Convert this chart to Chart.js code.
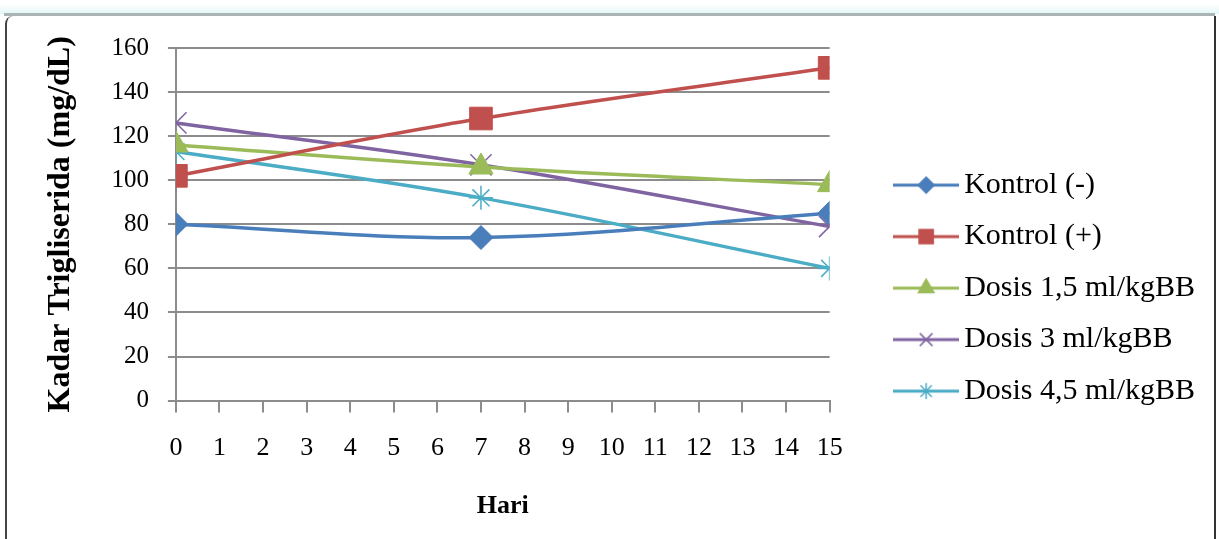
<!DOCTYPE html>
<html>
<head>
<meta charset="utf-8">
<script src="https://cdn.jsdelivr.net/npm/chart.js@4.4.1/dist/chart.umd.min.js"></script>
<style>
  html, body { margin: 0; padding: 0; background: #fff; }
  body { width: 1219px; height: 539px; position: relative; overflow: hidden; }
  .glow { position: absolute; left: 0; top: 4px; width: 1219px; height: 10px;
          background: linear-gradient(#ffffff, #e3f6f6); }
  .bar { position: absolute; left: 4px; top: 13px; width: 1211px; height: 3px; background: #a9b4b4; }
  .frame { position: absolute; left: 5px; top: 16px; width: 1207px; height: 540px;
           border-left: 2px solid #444; border-right: 2px solid #333; border-top-left-radius: 8px; }
  #wrap { position: absolute; left: 8px; top: 14px; width: 1203px; height: 525px; }
</style>
</head>
<body>
<div class="glow"></div>
<div class="bar"></div>
<div class="frame"></div>
<div id="wrap"><canvas id="trigChart"></canvas></div>
<script>
// ---- data ----
const days = [0, 7, 15];
const kontrolNeg = [80, 74, 85];
const kontrolPos = [102, 128, 151];
const dosis15 = [116, 106, 98];
const dosis3 = [126, 107, 79];
const dosis45 = [113, 92, 60];

const seriesNames = ['Kontrol (-)', 'Kontrol (+)', 'Dosis 1,5 ml/kgBB', 'Dosis 3 ml/kgBB', 'Dosis 4,5 ml/kgBB'];
const seriesValues = [kontrolNeg, kontrolPos, dosis15, dosis3, dosis45];
const seriesColors = ['#4a7ebb', '#c0504d', '#9bbb59', '#8064a2', '#4bacc6'];
const seriesMarkers = ['rectRot', 'rect', 'triangle', 'crossRot', 'star'];
const markerSizes = [12, 16, 14, 15, 12];
const legendMarkerSizes = [8, 10, 9, 9, 8];

const serif = "'Liberation Serif', 'Times New Roman', serif";

// small canvas per series: line with marker, used as legend symbol
function makeLegendIcon(i) {
  const c = document.createElement('canvas');
  c.width = 66;
  c.height = 24;
  const ctx = c.getContext('2d');
  ctx.strokeStyle = seriesColors[i];
  ctx.fillStyle = seriesColors[i];
  ctx.lineWidth = 3;
  ctx.beginPath();
  ctx.moveTo(0, 12);
  ctx.lineTo(66, 12);
  ctx.stroke();
  ctx.lineWidth = 1.5;
  Chart.helpers.drawPoint(ctx, {
    pointStyle: seriesMarkers[i],
    radius: legendMarkerSizes[i],
    rotation: 0,
    borderWidth: 1.5
  }, 33, 12);
  return c;
}
const legendIcons = seriesNames.map((_, i) => makeLegendIcon(i));

const datasets = seriesNames.map((name, i) => ({
  label: name,
  data: days.map((d, j) => ({ x: d, y: seriesValues[i][j] })),
  borderColor: seriesColors[i],
  backgroundColor: seriesColors[i],
  pointBackgroundColor: seriesColors[i],
  pointBorderColor: seriesColors[i],
  borderWidth: 3.5,
  pointStyle: seriesMarkers[i],
  pointRadius: markerSizes[i],
  pointBorderWidth: (seriesMarkers[i] === 'crossRot' || seriesMarkers[i] === 'star') ? 1.5 : 1,
  tension: 0.35,
  fill: false
}));

new Chart(document.getElementById('trigChart'), {
  type: 'line',
  data: { datasets },
  options: {
    responsive: true,
    maintainAspectRatio: false,
    animation: false,
    layout: { padding: { left: 34, right: 6, top: 7, bottom: 17 } },
    plugins: {
      tooltip: { enabled: false },
      legend: {
        position: 'right',
        align: 'center',
        maxWidth: 400,
        // empty title only pushes the entries down a little
        title: { display: true, text: ' ', font: { size: 1 }, padding: { top: 16, bottom: 16 } },
        labels: {
          usePointStyle: true,
          pointStyleWidth: 46,
          padding: 21.5,
          color: '#000',
          font: { family: serif, size: 30 },
          generateLabels(chart) {
            const items = Chart.defaults.plugins.legend.labels.generateLabels(chart);
            items.forEach(it => { it.pointStyle = legendIcons[it.datasetIndex]; });
            return items;
          }
        }
      }
    },
    scales: {
      x: {
        type: 'linear',
        min: 0,
        max: 15,
        ticks: {
          stepSize: 1,
          color: '#000',
          padding: 20,
          font: { family: serif, size: 26 }
        },
        grid: { drawOnChartArea: false, drawTicks: true, tickLength: 12, color: '#8c8c8c', lineWidth: 2 },
        border: { color: '#8c8c8c', width: 2 },
        title: {
          display: true,
          text: 'Hari',
          color: '#000',
          font: { family: serif, size: 26, weight: 'bold' },
          padding: { top: 7, bottom: 0 }
        }
      },
      y: {
        min: 0,
        max: 160,
        ticks: {
          stepSize: 20,
          color: '#000',
          padding: 19,
          font: { family: serif, size: 25 }
        },
        grid: { color: '#8c8c8c', lineWidth: 2, tickLength: 8 },
        border: { color: '#8c8c8c', width: 2 },
        title: {
          display: true,
          text: 'Kadar Trigliserida (mg/dL)',
          color: '#000',
          font: { family: serif, size: 32, weight: 'bold' },
          padding: { top: 0, bottom: 12 }
        }
      },
      // blank axis on the right: keeps the gap between plot and legend
      yGap: {
        position: 'right',
        display: true,
        min: 0,
        max: 160,
        ticks: { display: false },
        grid: { display: false },
        border: { display: false },
        afterFit(scale) { scale.width = 52; }
      }
    }
  }
});
</script>
</body>
</html>
